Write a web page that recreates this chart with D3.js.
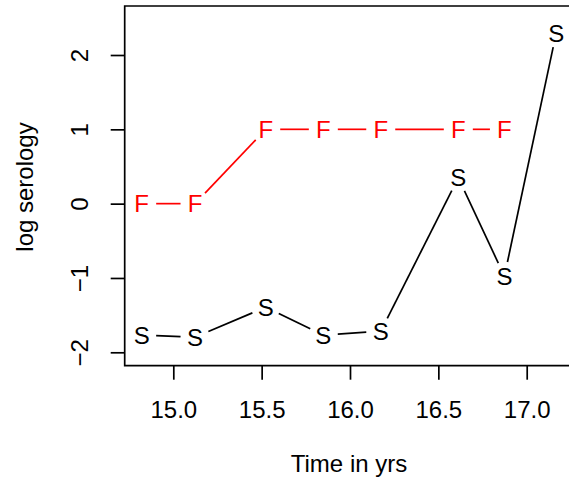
<!DOCTYPE html>
<html>
<head>
<meta charset="utf-8">
<script src="https://cdn.jsdelivr.net/npm/d3@7"></script>
<style>
  html, body { margin: 0; padding: 0; background: #fff; }
  svg { display: block; }
</style>
</head>
<body>
<svg id="chart" width="569" height="487"></svg>
<script>
// Visit times (years) and log serology readings
const timeYrs = [14.821, 15.123, 15.523, 15.849, 16.174, 16.613, 16.874, 17.167];
const seroS = [-1.767, -1.797, -1.393, -1.767, -1.717, 0.349, -0.976, 2.296];
const seroF = [0, 0, 1, 1, 1, 1, 1];
const xTicks = [15.0, 15.5, 16.0, 16.5, 17.0];
const yTicks = [-2, -1, 0, 1, 2];

(function () {
  const svg = d3.select("#chart");
  const font = "'Liberation Sans', Arial, Helvetica, sans-serif";
  const fs = 24;
  const lw = 1.7;

  // plot region
  const plotLeft = 124.7, plotTop = 6, plotBottom = 365.7;

  const x = d3.scaleLinear().domain([15, 17]).range([173.3, 526.7]);
  const y = d3.scaleLinear().domain([-2, 2]).range([352.3, 55]);

  // frame (right side runs beyond the canvas)
  svg.append("path")
    .attr("d", `M${x.range()[1] + 200},${plotTop} H${plotLeft} V${plotBottom} H${x.range()[1] + 200}`)
    .attr("fill", "none").attr("stroke", "#000").attr("stroke-width", lw);

  // x axis
  const xAxis = d3.axisBottom(x).tickValues(xTicks).tickFormat(d3.format(".1f"))
    .tickSize(14).tickPadding(11);
  const gx = svg.append("g").attr("transform", `translate(0,${plotBottom})`).call(xAxis);
  gx.select(".domain").remove();
  gx.selectAll(".tick line").attr("stroke", "#000").attr("stroke-width", lw);
  gx.selectAll(".tick text").attr("font-family", font).attr("font-size", fs).attr("fill", "#000")
    .attr("dy", null).attr("y", 52.5);

  // y axis with rotated labels
  const yAxis = d3.axisLeft(y).tickValues(yTicks).tickFormat(d => d < 0 ? "\u2212" + Math.abs(d) : d)
    .tickSize(14);
  const gy = svg.append("g").attr("transform", `translate(${plotLeft},0)`).call(yAxis);
  gy.select(".domain").remove();
  gy.selectAll(".tick line").attr("stroke", "#000").attr("stroke-width", lw);
  gy.selectAll(".tick text")
    .attr("font-family", font).attr("font-size", fs).attr("fill", "#000")
    .attr("x", null).attr("dy", null)
    .attr("text-anchor", "middle")
    .attr("transform", "translate(-36.7,0) rotate(-90)");

  // axis titles
  svg.append("text")
    .attr("x", 349).attr("y", 472)
    .attr("text-anchor", "middle")
    .attr("font-family", font).attr("font-size", fs)
    .text("Time in yrs");
  svg.append("text")
    .attr("transform", "translate(33,187) rotate(-90)")
    .attr("text-anchor", "middle")
    .attr("font-family", font).attr("font-size", fs)
    .text("log serology");

  // connecting segments with gaps around the letter markers
  const gap = 14.5;
  function drawSeries(xs, ys, letter, color) {
    const pts = ys.map((v, i) => [x(xs[i]), y(v)]);
    const g = svg.append("g");
    for (let i = 0; i < pts.length - 1; i++) {
      const [x0, y0] = pts[i], [x1, y1] = pts[i + 1];
      const d = Math.hypot(x1 - x0, y1 - y0);
      if (d <= 2 * gap) continue;
      const f = gap / d;
      g.append("line")
        .attr("x1", x0 + (x1 - x0) * f).attr("y1", y0 + (y1 - y0) * f)
        .attr("x2", x1 - (x1 - x0) * f).attr("y2", y1 - (y1 - y0) * f)
        .attr("stroke", color).attr("stroke-width", lw);
    }
    g.selectAll("text").data(pts).join("text")
      .attr("x", p => p[0]).attr("y", p => p[1] + fs * 0.36)
      .attr("text-anchor", "middle")
      .attr("font-family", font).attr("font-size", fs)
      .attr("fill", color)
      .text(letter);
  }

  drawSeries(timeYrs, seroS, "S", "#000");
  drawSeries(timeYrs.slice(0, seroF.length), seroF, "F", "#ff0000");
})();
</script>
</body>
</html>
